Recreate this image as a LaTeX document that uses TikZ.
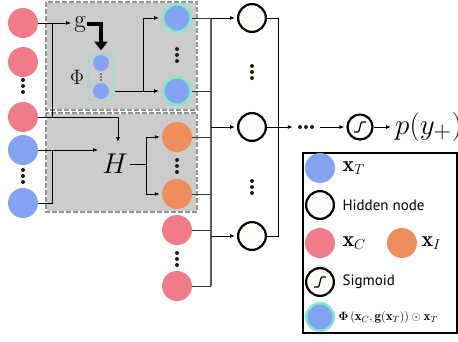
\documentclass[tikz,border=0pt]{standalone}
\usepackage{amsmath,amssymb,bm,graphicx}
\usepackage{fontspec}
\newfontfamily\legfont{PT Sans}
\usetikzlibrary{arrows.meta,calc}
\definecolor{pinkc}{HTML}{F07C8A}
\definecolor{bluec}{HTML}{84A3F2}
\definecolor{orangec}{HTML}{EE8E5C}
\definecolor{ringc}{HTML}{80EBC4}
\definecolor{boxc}{HTML}{CCCCCC}
\definecolor{edgec}{HTML}{8A9696}
\definecolor{hidc}{HTML}{FDFCF8}
\definecolor{dotc}{HTML}{221F10}
\definecolor{busc}{HTML}{5A5A5A}

\begin{document}
\begin{tikzpicture}[x=1pt,y=-1pt,>={Latex[length=5pt,width=4pt]},
	pk/.style={circle,fill=pinkc,minimum size=30pt,inner sep=0pt},
	bl/.style={circle,fill=bluec,minimum size=30pt,inner sep=0pt},
	og/.style={circle,fill=orangec,minimum size=30pt,inner sep=0pt},
	ph/.style={circle,fill=bluec,draw=ringc,line width=2.5pt,minimum size=27.5pt,inner sep=0pt},
	hid/.style={circle,fill=hidc,draw=black,line width=2.2pt,minimum size=27.8pt,inner sep=0pt},
	sg/.style={hid,minimum size=25pt,path picture={
		\coordinate (q) at (path picture bounding box.center);
		\draw[line width=1.2pt] ($(q)+(-6,5)$) -- ($(q)+(-2,5)$) .. controls ($(q)+(0,5)$) and ($(q)+(0,-5)$) .. ($(q)+(2,-5)$) -- ($(q)+(6,-5)$);}},
	con/.style={line width=0.9pt},
	arr/.style={con,->,shorten >=2pt},
	feed/.style={line width=0.9pt,draw=black!80},
	busl/.style={line width=1.6pt,draw=busc},
	leg/.style={anchor=west,font=\legfont\fontsize{15}{18}\selectfont},
	legm/.style={anchor=west,font=\fontsize{22}{26}\selectfont}]
	\useasboundingbox (0,0) rectangle (458,341);
	
	\fill[boxc,draw=white,line width=1.5pt] (46,2) rectangle (197,110);
	\draw[edgec,line width=1.5pt,dash pattern=on 5pt off 2pt] (46,2) rectangle (197,110);
	\fill[boxc,draw=white,line width=1.5pt] (46,113) rectangle (197,212);
	\draw[edgec,line width=1.5pt,dash pattern=on 5pt off 2pt] (46,113) rectangle (197,212);
	
	\node[pk](c1)at(23,23) {};
	\node[pk](c2)at(23,62) {};
	\node[pk](c3)at(23,117) {};
	\node[bl](t1)at(23,150) {};
	\node[bl](t2)at(23,203) {};
	
	\node[font=\fontsize{25}{28}\selectfont,inner sep=1pt](g)at(80,24) {g};
	\node[font=\fontsize{21}{25}\selectfont](phl)at(77,77) {$\Phi$};
	\node[draw=ringc,line width=1pt,rounded corners=3pt,minimum width=26pt,minimum height=46pt,inner sep=0pt](fb)at(101,77) {};
	\node[circle,fill=bluec,minimum size=16pt,inner sep=0pt](s1)at(101,63) {};
	\node[circle,fill=bluec,minimum size=16pt,inner sep=0pt](s2)at(101,91) {};
	\node[font=\Huge,inner xsep=2pt,inner ysep=4pt](H)at(115,164) {\scalebox{1.15}{$H$}};
	
	\node[ph](o1)at(177,18) {};
	\node[ph](o2)at(177,91) {};
	\node[og](r1)at(177,137) {};
	\node[og](r2)at(177,194) {};
	\node[pk](b1)at(177,230) {};
	\node[pk](b2)at(177,286) {};
	
	\node[hid](h1)at(252,18) {};
	\node[hid](h2)at(252,127) {};
	\node[hid](h3)at(252,236) {};
	\node[minimum width=22pt,minimum height=6pt,inner sep=0pt](hd)at(306,127) {};
	\node[sg](s)at(360,127) {};
	\node[anchor=west,font=\Huge,inner sep=2pt](p)at(393,127) {\scalebox{1.17}{$p(y_+)$}};
	
	\foreach \x/\y in {23/86,23/176,177/55,177/166,177/259,252/72,252/187}
		\foreach \d in {-6,0,6} \fill[dotc] (\x,\y+\d) circle (2);
	\foreach \d in {-6,0,6} \fill[dotc] ([xshift=\d pt]hd.center) circle (2);
	\foreach \d in {-3,0,3} \fill[dotc] (101,77+\d) circle (0.8);
	
	\draw[arr] (c1.east) -- (c1.east -| g.west);
	\draw[con] ([xshift=14pt]c1.east) |- (c3.east);
	\coordinate (hp) at (118,117);
	\draw[con] (c3) -- (hp);
	\draw[con,->,shorten >=8pt] (hp) -- (hp |- H.north);
	\draw[con] (t2) -| ([xshift=14pt]t1.east);
	\draw[arr] (t1) -- (t1 -| H.west);
	\draw[line width=3.5pt,-{Triangle[length=9pt,width=13pt]},shorten >=3pt] (g.east) -| (fb.north);
	
	\coordinate (sp) at (143,91);
	\draw[con] (s2 -| fb.east) -- (sp);
	\draw[arr,shorten >=3pt] (sp) -- (o2);
	\draw[arr,shorten >=3pt] (sp) |- (o1);
	\coordinate (hs) at (146,164);
	\draw[con] (H) -- (hs);
	\draw[arr] (hs) |- (r1);
	\draw[arr] (hs) |- (r2);
	
	\coordinate (bus) at (211,0);
	\foreach \n in {o1,o2,r1,r2,b1,b2} \draw[feed] (\n) -- (\n -| bus);
	\draw[busl] (bus |- o1) -- (bus |- b2);
	\foreach \n in {h1,h2,h3} \draw[arr] (bus |- \n) -- (\n);
	\coordinate (hb) at (278,0);
	\draw[con] (h1) -| (hb |- h3) -- (h3);
	\draw[arr] (h2) -- (hd);
	\draw[arr,shorten <=3pt] (hd) -- (s);
	\draw[arr] (s) -- (p);
	
	\draw[line width=1.2pt] (303,153) rectangle (457,333);
	\node[bl](lt)at(320,168) {};
	\node[legm](ltx)at(339,168) {$\mathbf{x}_T$};
	\node[hid](lh)at(320,205) {};
	\node[leg](lhx)at(339,205) {Hidden node};
	\node[pk](lc)at(320,243) {};
	\node[legm](lcx)at(339,243) {$\mathbf{x}_C$};
	\node[og](li)at(402,243) {};
	\node[legm](lix)at(418,243) {$\mathbf{x}_I$};
	\node[sg,minimum size=27.8pt](ls)at(320,282) {};
	\node[leg](lsx)at(339,282) {Sigmoid};
	\node[ph](lp)at(320,317) {};
	\node[anchor=west,font=\fontsize{13}{15}\selectfont](lpx)at(335,317) {$\boldsymbol{\Phi}\left(\mathbf{x}_C,\mathbf{g}(\mathbf{x}_T)\right)\odot\mathbf{x}_T$};
\end{tikzpicture}
\end{document}
